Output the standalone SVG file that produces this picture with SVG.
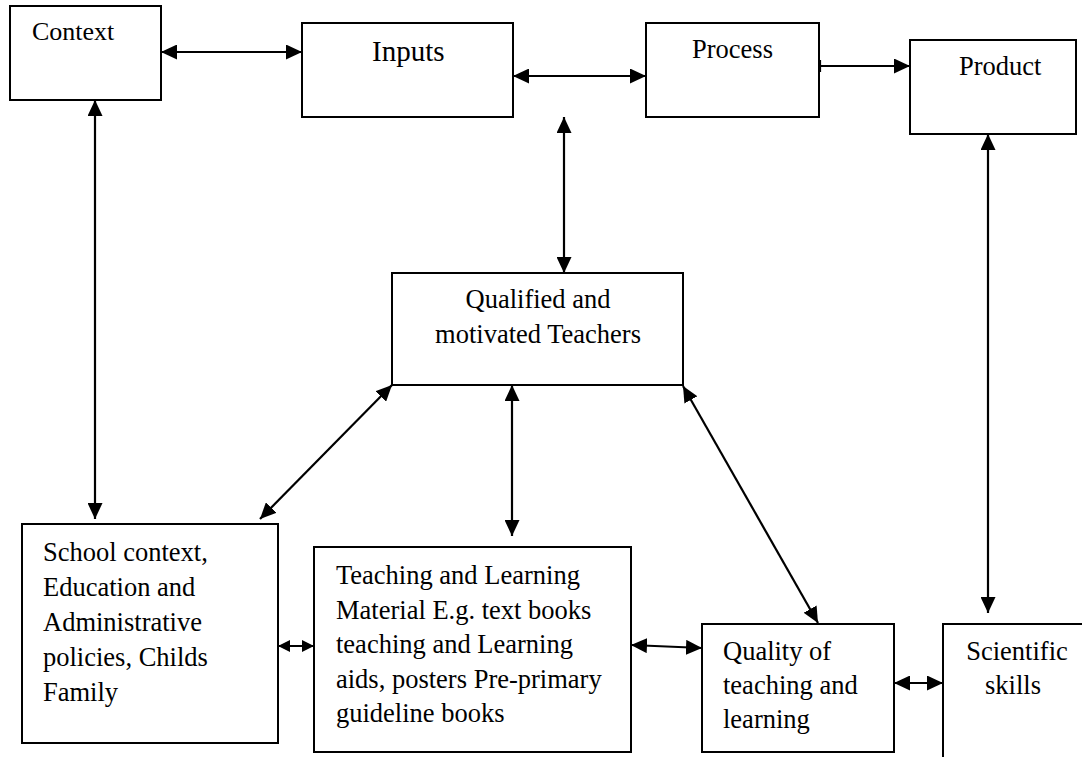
<svg xmlns="http://www.w3.org/2000/svg" width="1082" height="757" viewBox="0 0 1082 757">
<style>
.box{fill:#fff;stroke:#000;stroke-width:2}
.t{font-family:"Liberation Serif","Times New Roman",serif;font-size:26.5px;fill:#000}
.c{stroke:#000;stroke-width:2.2;fill:none}
</style>
<defs>
<marker id="ah" viewBox="0 0 16 15" refX="16" refY="7.5" markerWidth="16" markerHeight="15" markerUnits="userSpaceOnUse" orient="auto-start-reverse">
<path d="M0,0 L16,7.5 L0,15 z" fill="#000"/>
</marker>
<marker id="ahs" viewBox="0 0 12 12" refX="12" refY="6" markerWidth="12" markerHeight="12" markerUnits="userSpaceOnUse" orient="auto-start-reverse">
<path d="M0,0 L12,6 L0,12 z" fill="#000"/>
</marker>
</defs>
<rect width="1082" height="757" fill="#fff"/>
<g id="context"><rect class="box" x="10" y="6" width="151" height="94"/><text class="t" x="32" y="40" style="font-size:26px">Context</text></g>
<g id="inputs"><rect class="box" x="302" y="23" width="211" height="94"/><text class="t" x="372" y="61" style="font-size:29px">Inputs</text></g>
<g id="process"><rect class="box" x="646" y="23" width="173" height="94"/><text class="t" x="692" y="58">Process</text></g>
<g id="product"><rect class="box" x="910" y="40" width="166" height="94"/><text class="t" x="959" y="75">Product</text></g>
<g id="teachers"><rect class="box" x="392" y="273" width="291" height="112"/><text class="t" text-anchor="middle"><tspan x="538" y="308">Qualified and</tspan><tspan x="538" y="343">motivated Teachers</tspan></text></g>
<g id="school"><rect class="box" x="22" y="524" width="256" height="219"/><text class="t"><tspan x="43" y="561">School context,</tspan><tspan x="43" y="596">Education and</tspan><tspan x="43" y="631">Administrative</tspan><tspan x="43" y="666">policies, Childs</tspan><tspan x="43" y="701">Family</tspan></text></g>
<g id="materials"><rect class="box" x="314" y="547" width="317" height="205"/><text class="t"><tspan x="336" y="584">Teaching and Learning</tspan><tspan x="336" y="619">Material E.g. text books</tspan><tspan x="336" y="653">teaching and Learning</tspan><tspan x="336" y="688">aids, posters Pre-primary</tspan><tspan x="336" y="722">guideline books</tspan></text></g>
<g id="quality"><rect class="box" x="702" y="624" width="192" height="128"/><text class="t"><tspan x="723" y="660">Quality of</tspan><tspan x="723" y="694">teaching and</tspan><tspan x="723" y="728">learning</tspan></text></g>
<g id="scientific"><path class="box" d="M943,760 L943,624 L1090,624"/><text class="t" text-anchor="middle"><tspan x="1017" y="660">Scientific</tspan><tspan x="1013" y="694">skills</tspan></text></g>
<g id="connectors">
<line class="c" x1="161" y1="52" x2="302" y2="52" marker-start="url(#ah)" marker-end="url(#ah)"/>
<line class="c" x1="513" y1="76" x2="646" y2="76" marker-start="url(#ah)" marker-end="url(#ah)"/>
<line class="c" x1="820" y1="66" x2="910" y2="66" marker-end="url(#ah)"/>
<line class="c" x1="820" y1="60" x2="820" y2="72"/>
<line class="c" x1="95" y1="100" x2="95" y2="519" marker-start="url(#ah)" marker-end="url(#ah)"/>
<line class="c" x1="564" y1="117" x2="564" y2="273" marker-start="url(#ah)" marker-end="url(#ah)"/>
<line class="c" x1="988" y1="134" x2="988" y2="613" marker-start="url(#ah)" marker-end="url(#ah)"/>
<line class="c" x1="392" y1="385" x2="260" y2="519" marker-start="url(#ah)" marker-end="url(#ah)"/>
<line class="c" x1="512" y1="385" x2="512" y2="536" marker-start="url(#ah)" marker-end="url(#ah)"/>
<line class="c" x1="683" y1="386" x2="818" y2="623" marker-start="url(#ah)" marker-end="url(#ah)"/>
<line class="c" x1="278" y1="646" x2="314" y2="646" marker-start="url(#ahs)" marker-end="url(#ahs)"/>
<line class="c" x1="631" y1="645" x2="702" y2="648" marker-start="url(#ah)" marker-end="url(#ah)"/>
<line class="c" x1="894" y1="683" x2="943" y2="683" marker-start="url(#ah)" marker-end="url(#ah)"/>
</g>
</svg>
